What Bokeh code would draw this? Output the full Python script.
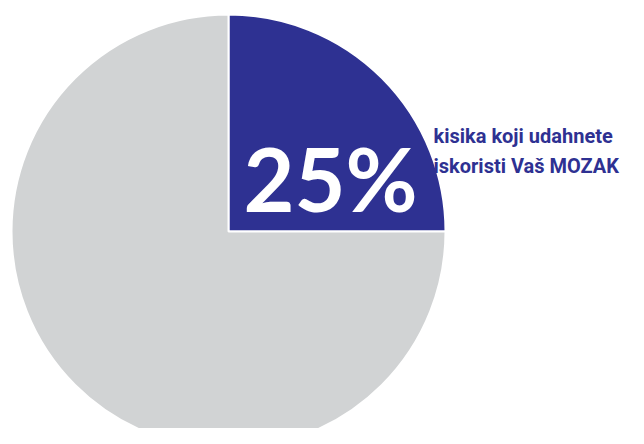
import math
from bokeh.plotting import figure
from bokeh.models import Range1d, ColumnDataSource
from bokeh.core.properties import value
from bokeh.embed import file_html
from bokeh.resources import INLINE

# data
categories = ["MOZAK", "ostalo"]
shares = [25, 75]
colors = ["#2E3192", "#D1D3D4"]
big_label = "25%"
label_lines = ["kisika koji udahnete", "iskoristi Vaš MOZAK"]

total = sum(shares)
starts, ends = [], []
acc = 0.0
for s in shares:
    starts.append(2 * math.pi * acc / total)
    acc += s
    ends.append(2 * math.pi * acc / total)

W, H = 628, 428
p = figure(width=W, height=H, output_backend="svg", toolbar_location=None,
           x_range=Range1d(0, W), y_range=Range1d(0, H),
           min_border=0, background_fill_color="white", border_fill_color="white")
p.axis.visible = False
p.grid.visible = False
p.outline_line_color = None

cx, cy, r = 228, H - 231, 217
src = ColumnDataSource(dict(cat=categories, start=starts, end=ends, color=colors,
                            x=[cx] * len(shares), y=[cy] * len(shares)))
p.wedge(x="x", y="y", radius=r, start_angle="start", end_angle="end",
        fill_color="color", line_color="white", line_width=2, source=src)

p.text(x=[330], y=[H - 177], text=[big_label], text_color="white",
       text_font=value("Lato"), text_font_style="bold", text_font_size="88px",
       text_align="center", text_baseline="alphabetic")

p.text(x=[433, 433], y=[H - 135, H - 165], text=label_lines,
       text_color="#2E3192", text_font=value("Roboto"),
       text_font_style="bold", text_font_size="20px",
       text_align="left", text_baseline="alphabetic")

open("out.html", "w").write(file_html(p, INLINE))
